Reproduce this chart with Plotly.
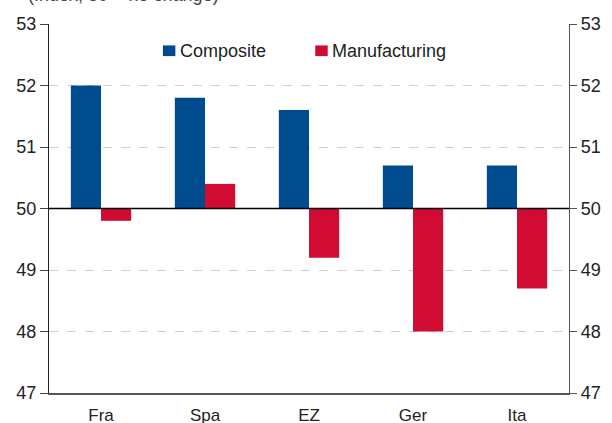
import plotly.graph_objects as go

categories = ["Fra", "Spa", "EZ", "Ger", "Ita"]
composite = [52.0, 51.8, 51.6, 50.7, 50.7]
manufacturing = [49.8, 50.4, 49.2, 48.0, 48.7]
tick_vals = [47, 48, 49, 50, 51, 52, 53]
series_names = ["Composite", "Manufacturing"]
subtitle = "(Index, 50 = no change)"
BASE = 50

BLUE = "#004B8D"
RED = "#D00C33"
FONT = "Liberation Sans"

fig = go.Figure()
fig.add_trace(go.Bar(x=categories, y=[v - BASE for v in composite], base=BASE,
                     name=series_names[0], marker=dict(color=BLUE, line=dict(width=0))))
fig.add_trace(go.Bar(x=categories, y=[v - BASE for v in manufacturing], base=BASE,
                     name=series_names[1], marker=dict(color=RED, line=dict(width=0))))
fig.add_trace(go.Scatter(x=categories, y=[None]*len(categories), yaxis="y2",
                         showlegend=False, hoverinfo="skip"))

fig.update_layout(
    width=612, height=423,
    margin=dict(l=49, r=43, t=24, b=30),
    paper_bgcolor="white", plot_bgcolor="white",
    barmode="group", bargap=0.42, bargroupgap=0,
    font=dict(family=FONT, size=18, color="#222"),
    showlegend=False,
    xaxis=dict(showline=True, linecolor="#555", linewidth=1.5, ticks="",
               showgrid=False, tickfont=dict(size=17), ticklabelstandoff=6,
               automargin=False),
    yaxis=dict(range=[47, 53], tickvals=tick_vals, showline=True, linecolor="#222",
               linewidth=1.2, ticks="outside", ticklen=8, tickcolor="#444",
               showgrid=True, gridcolor="#d0d0d0", griddash="dash", gridwidth=1,
               zeroline=False, tickfont=dict(size=18), automargin=False),
    yaxis2=dict(range=[47, 53], tickvals=tick_vals, overlaying="y", side="right",
                showline=True, linecolor="#555", linewidth=1.2, ticks="outside",
                ticklen=7, tickcolor="#555", showgrid=False, zeroline=False,
                tickfont=dict(size=18), automargin=False),
)
fig.add_shape(type="line", xref="paper", yref="y", x0=0, x1=1, y0=BASE, y1=BASE,
              line=dict(color="black", width=1.3))
# legend drawn as shapes + annotations
leg_x = [0.219, 0.512]
for name, col, lx in zip(series_names, [BLUE, RED], leg_x):
    fig.add_shape(type="rect", xref="paper", yref="paper", x0=lx, x1=lx + 0.024,
                  y0=0.913, y1=0.942, fillcolor=col, line=dict(width=0))
    fig.add_annotation(text=name, xref="paper", yref="paper", x=lx + 0.029, y=0.927,
                       xanchor="left", yanchor="middle", showarrow=False,
                       font=dict(size=18, color="#222"))
fig.add_annotation(text=subtitle, xref="paper", yref="paper", x=-0.045, y=1.0,
                   yshift=17, xanchor="left", yanchor="bottom", showarrow=False,
                   font=dict(size=18, color="#444"))

fig.write_html("out.html")
